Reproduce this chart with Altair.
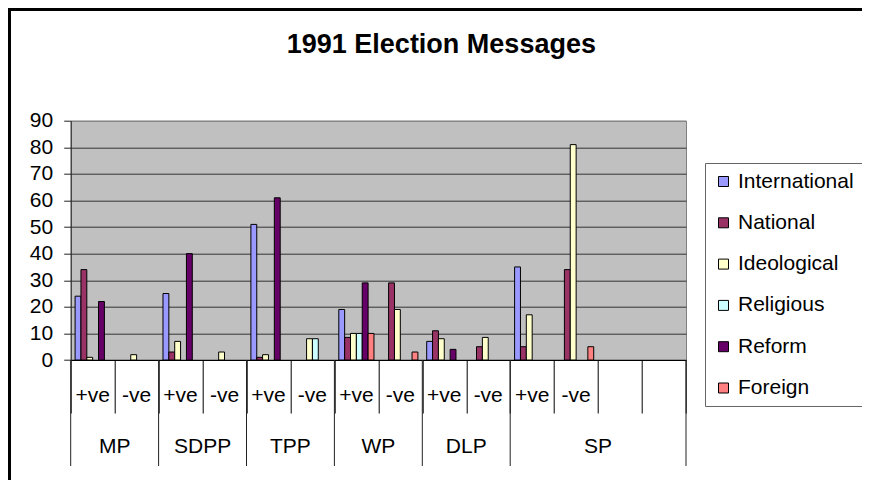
import altair as alt
import pandas as pd

# ---------------- data ----------------
parties = ["MP", "SDPP", "TPP", "WP", "DLP", "SP"]
party_span = [2, 2, 2, 2, 2, 4]
signs = ["+ve", "-ve", "+ve", "-ve", "+ve", "-ve", "+ve", "-ve",
         "+ve", "-ve", "+ve", "-ve", "", ""]

series = ["International", "National", "Ideological", "Religious", "Reform", "Foreign"]
international = [24, 0, 25, 0, 51, 0, 19, 0, 7, 0, 35, 0, 0, 0]
national      = [34, 0, 3, 0, 1, 0, 8.5, 29, 11, 5, 5, 34, 0, 0]
ideological   = [1, 2, 7, 3, 2, 8, 10, 19, 8, 8.5, 17, 81, 0, 0]
religious     = [0, 0, 0, 0, 0, 8, 10, 0, 0, 0, 0, 0, 0, 0]
reform        = [22, 0, 40, 0, 61, 0, 29, 0, 4, 0, 0, 0, 0, 0]
foreign       = [0, 0, 0, 0, 0, 0, 10, 3, 0, 0, 0, 5, 0, 0]
colors = ["#9999FF", "#993366", "#FFFFCC", "#CCFFFF", "#660066", "#FF8080"]
y_ticks = list(range(0, 91, 10))

# ---------------- tables ----------------
cat_ids = [f"c{i:02d}" for i in range(len(signs))]
values = [international, national, ideological, religious, reform, foreign]
rows = []
for s, vals in zip(series, values):
    for cid, v in zip(cat_ids, vals):
        if v > 0:
            rows.append({"cat": cid, "series": s, "value": v})
bars_df = pd.DataFrame(rows)

starts = []
idx = 0
for p, span in zip(parties, party_span):
    starts.append({"cat": cat_ids[idx], "party": p,
                   "mid": cat_ids[idx + span // 2]})
    idx += span
party_df = pd.DataFrame(starts)
end_df = pd.DataFrame([{"cat": cat_ids[-1]}])
sign_df = pd.DataFrame({"cat": cat_ids, "sign": signs})

W, H = 615.3, 239.3
PL, PT = 62.7, 112.7
PR = 854 - PL - W
PB = 472 - PT - H

FONT = "Arial"

x_scale = alt.Scale(domain=cat_ids, paddingInner=0, paddingOuter=0)
x_axis = alt.Axis(tickBand="extent", tickSize=53, tickColor="black",
                  domainColor="black", labels=False, grid=False, title=None)

bars = alt.Chart(bars_df).mark_bar(stroke="black", strokeWidth=1).encode(
    x=alt.X("cat:N", scale=x_scale, title=None, axis=x_axis),
    xOffset=alt.XOffset("series:N", sort=series,
                        scale=alt.Scale(domain=series, paddingInner=0, paddingOuter=0.75)),
    y=alt.Y("value:Q", scale=alt.Scale(domain=[0, 90], nice=False), title=None,
            axis=alt.Axis(values=y_ticks, grid=True,
                          gridColor=alt.condition("datum.value == 90",
                                                  alt.value("#808080"), alt.value("#333333")),
                          gridWidth=1, domainColor="#222222", tickColor="#222222",
                          tickSize=7, labelPadding=11, labelFontSize=21,
                          labelFont=FONT, labelColor="black")),
    color=alt.Color("series:N", sort=series,
                    scale=alt.Scale(domain=series, range=colors),
                    legend=alt.Legend(title=None, orient="none", legendX=634.3, legendY=42.3,
                                      symbolType="square", symbolSize=100,
                                      symbolStrokeColor="black", symbolStrokeWidth=1,
                                      labelFontSize=21, labelFont=FONT, labelColor="black",
                                      labelOffset=4, rowPadding=19.3, padding=8,
                                      strokeColor="#666666", fillColor="white")),
)

sign_text = alt.Chart(sign_df).mark_text(
    fontSize=21, font=FONT, color="black", baseline="middle", align="center"
).encode(
    x=alt.X("cat:N", scale=x_scale, axis=x_axis, title=None),
    y=alt.value(H + 36),
    text="sign:N",
)

party_rules = alt.Chart(party_df).mark_rule(color="#222222", strokeWidth=1).encode(
    x=alt.X("cat:N", scale=x_scale, axis=x_axis, title=None, bandPosition=0),
    y=alt.value(H), y2=alt.value(H + 106),
)
end_rule = alt.Chart(end_df).mark_rule(color="#222222", strokeWidth=1).encode(
    x=alt.X("cat:N", scale=x_scale, axis=x_axis, title=None, bandPosition=1),
    y=alt.value(H), y2=alt.value(H + 106),
)
party_text = alt.Chart(party_df).mark_text(
    fontSize=21, font=FONT, color="black", baseline="middle", align="center"
).encode(
    x=alt.X("mid:N", scale=x_scale, axis=x_axis, title=None, bandPosition=0),
    y=alt.value(H + 87),
    text="party:N",
)

frame_top = alt.Chart(party_df.head(1)).mark_rule(color="black", strokeWidth=3).encode(
    x=alt.value(-PL), x2=alt.value(W + PR), y=alt.value(-PT + 1.5))
frame_left = alt.Chart(party_df.head(1)).mark_rule(color="black", strokeWidth=3).encode(
    x=alt.value(-PL + 1.5), y=alt.value(-PT), y2=alt.value(H + PB))

chart = alt.layer(bars, sign_text, party_rules, end_rule, party_text,
                  frame_top, frame_left).properties(
    width=W, height=H,
    title=alt.TitleParams("1991 Election Messages", fontSize=27, fontWeight="bold",
                          font=FONT, color="black", anchor="middle", dx=63, dy=85.5,
                          baseline="alphabetic", offset=12),
    autosize=alt.AutoSizeParams(type="none"),
    padding={"left": PL, "top": PT, "right": PR, "bottom": PB},
    background="white",
).configure_view(fill="#C0C0C0", stroke="#808080", strokeWidth=1)

chart.save("out.html", embed_options={"renderer": "svg", "actions": False})
